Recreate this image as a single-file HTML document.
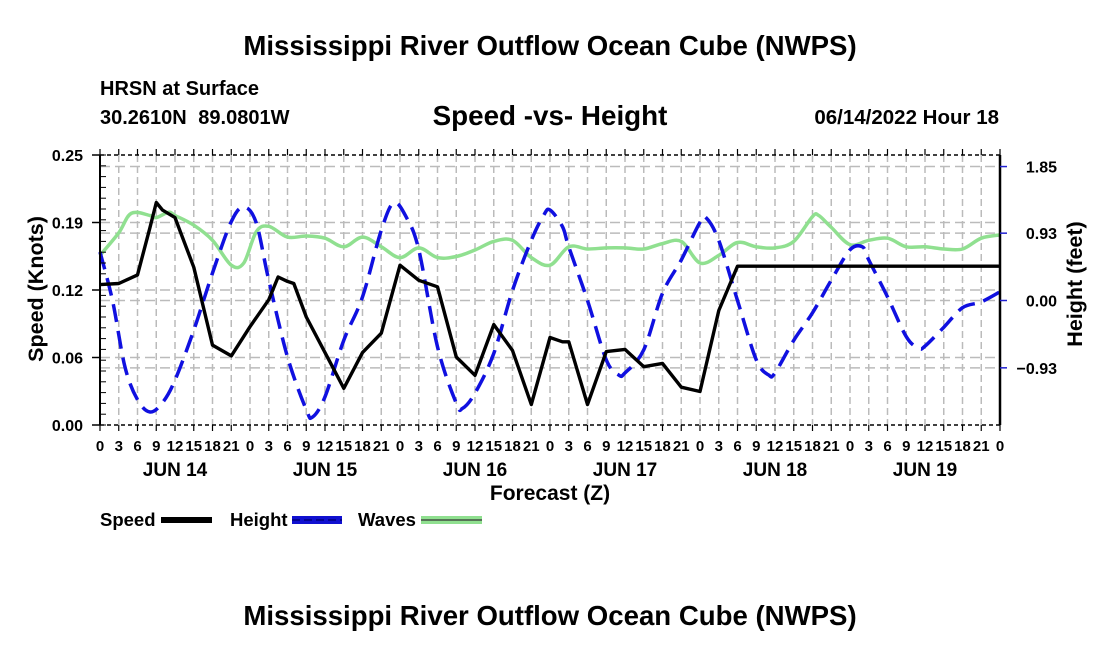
<!DOCTYPE html>
<html><head><meta charset="utf-8"><style>
body{margin:0;background:#fff;}
svg text{font-family:"Liberation Sans",Arial,sans-serif;font-weight:bold;}
</style></head><body>
<svg id="chart" width="1100" height="650" viewBox="0 0 1100 650" xmlns="http://www.w3.org/2000/svg">
<text x="550" y="55" font-size="27.6" text-anchor="middle">Mississippi River Outflow Ocean Cube (NWPS)</text>
<text x="100" y="95" font-size="20">HRSN at Surface</text>
<text x="100" y="124" font-size="20" word-spacing="6">30.2610N 89.0801W</text>
<text x="550" y="125" font-size="27.8" text-anchor="middle">Speed -vs- Height</text>
<text x="999" y="124" font-size="20.5" text-anchor="end">06/14/2022 Hour 18</text>
<g id="grid"></g>
<g id="series"></g>
<g id="axes"></g>
<text transform="translate(43,289) rotate(-90)" font-size="21.5" text-anchor="middle">Speed (Knots)</text>
<text transform="translate(1082,284) rotate(-90)" font-size="21.5" text-anchor="middle">Height (feet)</text>
<text x="550" y="500" font-size="21" text-anchor="middle">Forecast (Z)</text>
<g>
<text x="100" y="526" font-size="18.5">Speed</text>
<rect x="161" y="517" width="51" height="6" fill="#000"/>
<text x="230" y="526" font-size="18.5">Height</text>
<rect x="292" y="516" width="50" height="8" fill="#1010d0"/>
<line x1="292" y1="520" x2="342" y2="520" stroke="#000080" stroke-width="1.5" stroke-dasharray="8,4"/>
<text x="358" y="526" font-size="18.5">Waves</text>
<rect x="421" y="516" width="61" height="8" fill="#90e090"/>
<line x1="421" y1="520" x2="482" y2="520" stroke="#333" stroke-width="1.2"/>
</g>
<text x="550" y="625" font-size="27.6" text-anchor="middle">Mississippi River Outflow Ocean Cube (NWPS)</text>
</svg>
<script>
const speedHours=[0,3,6,8,9,10,12,15,18,21,24,27,28.5,30,31,33,36,39,42,45,48,51,54,57,60,63,66,69,72,74,75,78,81,84,87,90,93,96,99,102,144];
const speedValues=[0.130,0.131,0.139,0.183,0.206,0.199,0.192,0.146,0.074,0.064,0.091,0.116,0.137,0.133,0.131,0.100,0.067,0.034,0.067,0.085,0.148,0.134,0.128,0.063,0.046,0.093,0.069,0.019,0.081,0.077,0.077,0.019,0.068,0.070,0.054,0.057,0.035,0.031,0.106,0.147,0.147];
const heightHours=[0,2,4,6,8,10,12,15,18,21,23,25,27,30,33,34,36,39,42,45,47,49,51,54,57,58,60,63,66,69,71,72,74,75,78,81,83,84,87,90,93,96,97,99,102,105,107,108,111,114,117,120,122,123,126,129,131,132,135,138,141,144];
const heightValues=[0.67,0,-0.92,-1.37,-1.54,-1.41,-1.1,-0.41,0.38,1.09,1.29,1.07,0.28,-0.78,-1.51,-1.61,-1.33,-0.55,0.05,0.97,1.35,1.15,0.70,-0.64,-1.42,-1.49,-1.28,-0.73,0.14,0.83,1.18,1.25,1.02,0.74,0,-0.82,-1.03,-1.0,-0.68,0.10,0.56,1.08,1.14,0.83,0,-0.82,-1.03,-1.0,-0.55,-0.17,0.28,0.70,0.74,0.56,0.05,-0.50,-0.66,-0.63,-0.37,-0.10,-0.02,0.12];
const waveHours=[0,3,5,8,9,11,12,15,18,21,23,25,27,30,33,36,39,42,45,48,51,54,57,60,63,66,69,72,75,78,81,84,87,90,93,96,99,102,105,108,111,114,115,117,120,123,126,129,132,135,138,141,144];
const waveValues=[0.157,0.178,0.196,0.194,0.192,0.197,0.194,0.185,0.171,0.148,0.150,0.179,0.184,0.174,0.175,0.173,0.165,0.174,0.165,0.155,0.164,0.155,0.156,0.162,0.170,0.171,0.155,0.148,0.165,0.163,0.164,0.164,0.163,0.168,0.170,0.150,0.157,0.169,0.165,0.164,0.170,0.193,0.194,0.183,0.167,0.171,0.173,0.165,0.165,0.163,0.163,0.173,0.176];
const leftTicks=[0,0.0625,0.125,0.1875,0.25];
const leftTickLabels=["0.00","0.06","0.12","0.19","0.25"];
const rightTicks=[-0.93,0,0.93,1.85];
const rightTickLabels=["\u22120.93","0.00","0.93","1.85"];
const hourLabels=["0","3","6","9","12","15","18","21"];
const dayLabels=["JUN 14","JUN 15","JUN 16","JUN 17","JUN 18","JUN 19"];

const L=100,R=1000,T=155,B=425;
const xs=h=>L+h*(R-L)/144;
const yl=v=>B-v/0.25*(B-T);
const yr=v=>300.5-v*72.4;
const NS="http://www.w3.org/2000/svg";
function mk(tag,attrs,parent){const e=document.createElementNS(NS,tag);for(const k in attrs)e.setAttribute(k,attrs[k]);parent.appendChild(e);return e;}
const grid=document.getElementById('grid'),series=document.getElementById('series'),axes=document.getElementById('axes');
for(let h=3;h<144;h+=3){const g=mk('line',{x1:xs(h),x2:xs(h),y1:T,y2:B,stroke:'#bbb','stroke-width':1.5,'stroke-dasharray':'7,4'},grid);

}
leftTicks.slice(1,4).forEach(v=>{const g=mk('line',{x1:L,x2:R,y1:yl(v),y2:yl(v),stroke:'#bbb','stroke-width':1.5,'stroke-dasharray':'10,5'},grid);

});
rightTicks.forEach(v=>{const g=mk('line',{x1:L,x2:R,y1:yr(v),y2:yr(v),stroke:'#bbb','stroke-width':1.5,'stroke-dasharray':'10,5'},grid);

});
function pts(hs,vs,f){return hs.map((h,i)=>xs(h).toFixed(1)+','+f(vs[i]).toFixed(1)).join(' ');}
function smooth(hs,vs,f){const p=hs.map((h,i)=>[xs(h),f(vs[i])]);let d='M'+p[0][0].toFixed(1)+','+p[0][1].toFixed(1);
for(let i=0;i<p.length-1;i++){const p0=p[Math.max(0,i-1)],p1=p[i],p2=p[i+1],p3=p[Math.min(p.length-1,i+2)];
const c1=[p1[0]+(p2[0]-p0[0])/6,p1[1]+(p2[1]-p0[1])/6],c2=[p2[0]-(p3[0]-p1[0])/6,p2[1]-(p3[1]-p1[1])/6];
d+=' C'+c1[0].toFixed(1)+','+c1[1].toFixed(1)+' '+c2[0].toFixed(1)+','+c2[1].toFixed(1)+' '+p2[0].toFixed(1)+','+p2[1].toFixed(1);}return d;}
const w=mk('path',{d:smooth(waveHours,waveValues,yl),fill:'none',stroke:'#90e090','stroke-width':3.5,'stroke-linejoin':'round'},series);


const hl=mk('path',{d:smooth(heightHours,heightValues,yr),fill:'none',stroke:'#1010e0','stroke-width':3.5,'stroke-dasharray':'18,9','stroke-linejoin':'round'},series);


const sl=mk('polyline',{points:pts(speedHours,speedValues,yl),fill:'none',stroke:'#000','stroke-width':3.4,'stroke-linejoin':'round'},series);


mk('line',{x1:L,x2:L,y1:T,y2:B,stroke:'#000','stroke-width':2},axes);
mk('line',{x1:R,x2:R,y1:T,y2:B,stroke:'#000','stroke-width':2.5},axes);
mk('line',{x1:L,x2:R,y1:T,y2:T,stroke:'#000','stroke-width':1.5,'stroke-dasharray':'4,3'},axes);
mk('line',{x1:L,x2:R,y1:B,y2:B,stroke:'#000','stroke-width':1.5,'stroke-dasharray':'4,3'},axes);
for(let v=0;v<=0.25001;v+=0.01){mk('line',{x1:L,x2:L+6,y1:yl(v),y2:yl(v),stroke:'#000','stroke-width':1},axes);}
leftTicks.forEach((v,i)=>{mk('line',{x1:L-8,x2:L,y1:yl(v),y2:yl(v),stroke:'#000','stroke-width':1.5},axes);
const t=mk('text',{x:L-17,y:yl(v)+6,'font-size':16,'text-anchor':'end'},axes);t.textContent=leftTickLabels[i];

});
rightTicks.forEach((v,i)=>{mk('line',{x1:R,x2:R+7,y1:yr(v),y2:yr(v),stroke:'#2020d0','stroke-width':1.5},axes);
const t=mk('text',{x:1057,y:yr(v)+6,'font-size':16,'text-anchor':'end'},axes);t.textContent=rightTickLabels[i];

});
for(let h=0;h<=144;h+=3){mk('line',{x1:xs(h),x2:xs(h),y1:T-6,y2:T,stroke:'#000','stroke-width':1.2},axes);
mk('line',{x1:xs(h),x2:xs(h),y1:B,y2:B+6,stroke:'#000','stroke-width':1.2},axes);
const t=mk('text',{x:xs(h),y:451,'font-size':15,'text-anchor':'middle'},axes);t.textContent=hourLabels[(h/3)%8];

}
dayLabels.forEach((d,i)=>{const t=mk('text',{x:xs(i*24+12),y:476,'font-size':19,'text-anchor':'middle'},axes);t.textContent=d;

});
</script>
</body></html>
